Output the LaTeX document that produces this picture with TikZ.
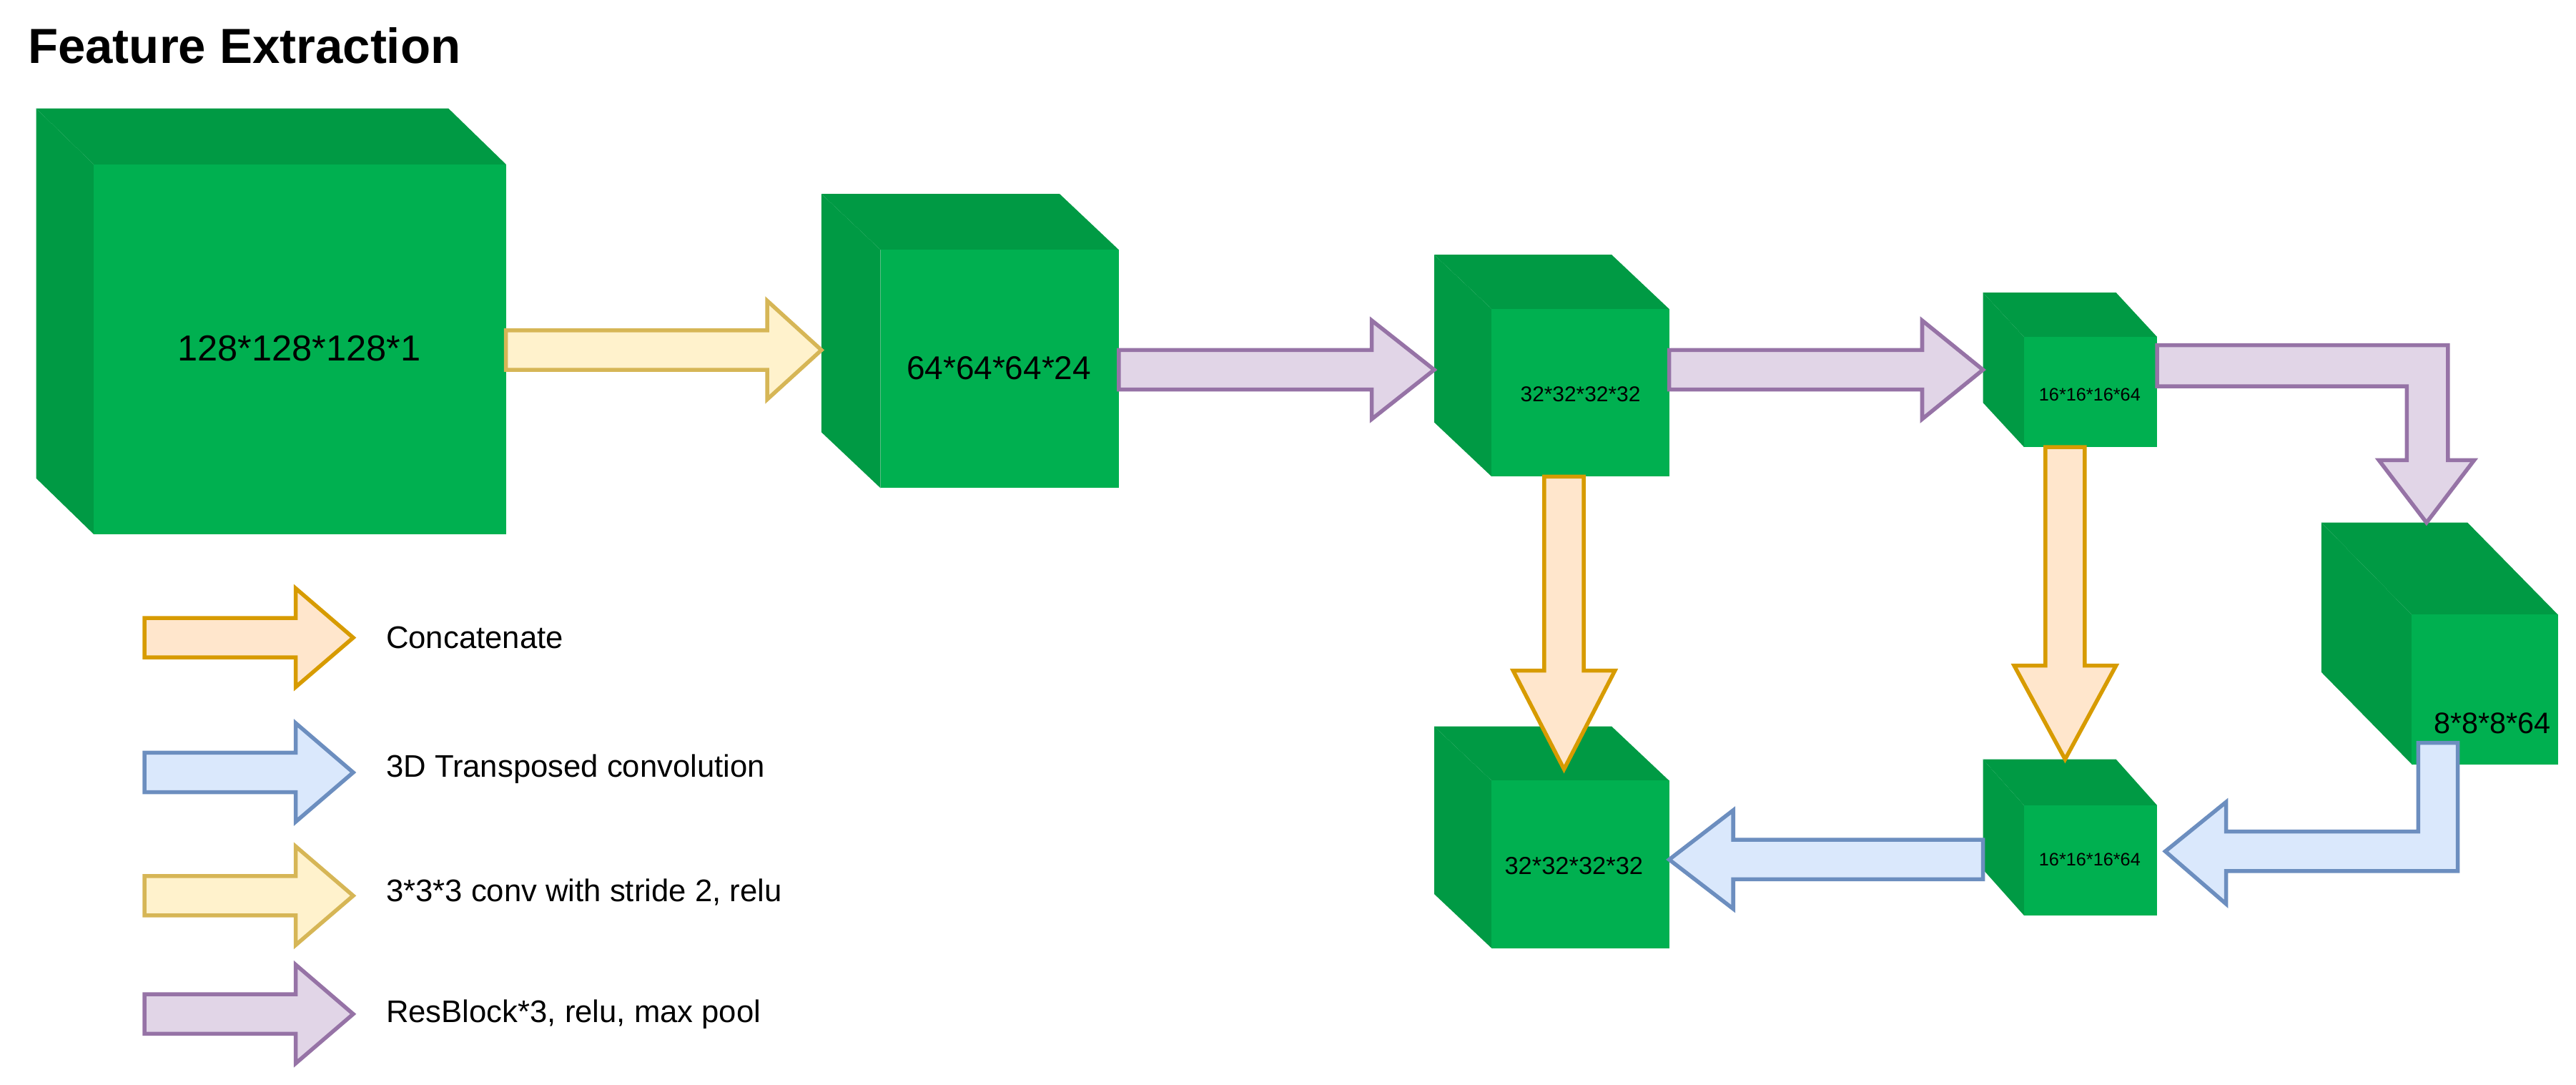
\documentclass[tikz,border=0pt]{standalone}
\usepackage{fontspec}
\setmainfont{Liberation Sans}
\begin{document}
\begin{tikzpicture}[x=0.5pt,y=-0.5pt,
  front/.style={fill={rgb,255:red,0;green,176;blue,80},draw=none},
  side/.style={fill={rgb,255:red,0;green,154;blue,68},draw=none},
  orangeA/.style={fill={rgb,255:red,255;green,230;blue,204},draw={rgb,255:red,215;green,155;blue,0},line width=1.2pt},
  blueA/.style={fill={rgb,255:red,218;green,232;blue,252},draw={rgb,255:red,108;green,142;blue,191},line width=1.2pt},
  yellowA/.style={fill={rgb,255:red,255;green,242;blue,204},draw={rgb,255:red,214;green,182;blue,86},line width=1.2pt},
  purpleA/.style={fill={rgb,255:red,225;green,213;blue,231},draw={rgb,255:red,150;green,115;blue,166},line width=1.2pt},
  lbl/.style={font=\fontsize{9.5}{11}\selectfont,anchor=west}]
\useasboundingbox (0,0) rectangle (1568,660);
\node[anchor=west,font=\fontsize{15}{18}\selectfont\bfseries] (title) at (10,28) {Feature Extraction};
% cube macro: backx backy frontx1 fronty1 frontx2 fronty2 (depth d)
\newcommand\mycube[6]{%
  \fill[side] (#1,#2) -- ++(#5-#3,0) -- (#5,#4) -- (#3,#4) -- cycle;
  \fill[side] (#1,#2) -- (#3,#4) -- (#3,#6) -- (#1,#6-#4+#2) -- cycle;
  \fill[front] (#3,#4) rectangle (#5,#6);}
\mycube{22}{66}{57}{100}{308}{325}
\mycube{500}{118}{536}{152}{681}{297}
\mycube{873}{155}{908}{188}{1016}{290}
\mycube{1207}{178}{1232}{205}{1313}{272}
\mycube{1413}{318}{1468}{374}{1557}{465}
\mycube{1207}{462}{1232}{490}{1313}{557}
\mycube{873}{442}{908}{475}{1016}{577}
\node[font=\fontsize{11}{13}\selectfont] (c1) at (182,212) {128*128*128*1};
\node[font=\fontsize{10}{12}\selectfont] (c2) at (608,224) {64*64*64*24};
\node[font=\fontsize{6.5}{8}\selectfont] (c3) at (962,240) {32*32*32*32};
\node[font=\fontsize{5.5}{7}\selectfont] (c4) at (1272,240) {16*16*16*64};
\node[font=\fontsize{9}{11}\selectfont] (c5) at (1517,440) {8*8*8*64};
\node[font=\fontsize{5.5}{7}\selectfont] (c6) at (1272,523) {16*16*16*64};
\node[font=\fontsize{7.5}{9}\selectfont] (c7) at (958,527) {32*32*32*32};
\newcommand\harrow[5]{% style x1 x2 y headstart
  \draw[#1] (#2,#4-12) -- (#5,#4-12) -- (#5,#4-30) -- (#3,#4) -- (#5,#4+30) -- (#5,#4+12) -- (#2,#4+12) -- cycle;}
\newcommand\varrow[5]{% style y1 y2 x headstart
  \draw[#1] (#4-12,#2) -- (#4-12,#5) -- (#4-31,#5) -- (#4,#3) -- (#4+31,#5) -- (#4+12,#5) -- (#4+12,#2) -- cycle;}
\harrow{yellowA}{308}{500}{213}{467}
\harrow{purpleA}{681}{873}{225}{835}
\harrow{purpleA}{1016}{1207}{225}{1170}
\draw[purpleA] (1313,210) -- (1490,210) -- (1490,280) -- (1506,280) -- (1477,318) -- (1448,280) -- (1465,280) -- (1465,235) -- (1313,235) -- cycle;
\varrow{orangeA}{290}{468}{952}{408}
\varrow{orangeA}{272}{462}{1257}{405}
\draw[blueA] (1472,452) -- (1496,452) -- (1496,530) -- (1355,530) -- (1355,550) -- (1318,518) -- (1355,488) -- (1355,506) -- (1472,506) -- cycle;
\harrow{blueA}{1207}{1016}{523}{1055}
% legend
\harrow{orangeA}{88}{215}{388}{180}
\harrow{blueA}{88}{215}{470}{180}
\harrow{yellowA}{88}{215}{545}{180}
\harrow{purpleA}{88}{215}{617}{180}
\node[lbl] (l1) at (228,388) {Concatenate};
\node[lbl] (l2) at (228,468) {3D Transposed convolution};
\node[lbl] (l3) at (228,543) {3*3*3 conv with stride 2, relu};
\node[lbl] (l4) at (228,617) {ResBlock*3, relu, max pool};
\end{tikzpicture}
\end{document}
